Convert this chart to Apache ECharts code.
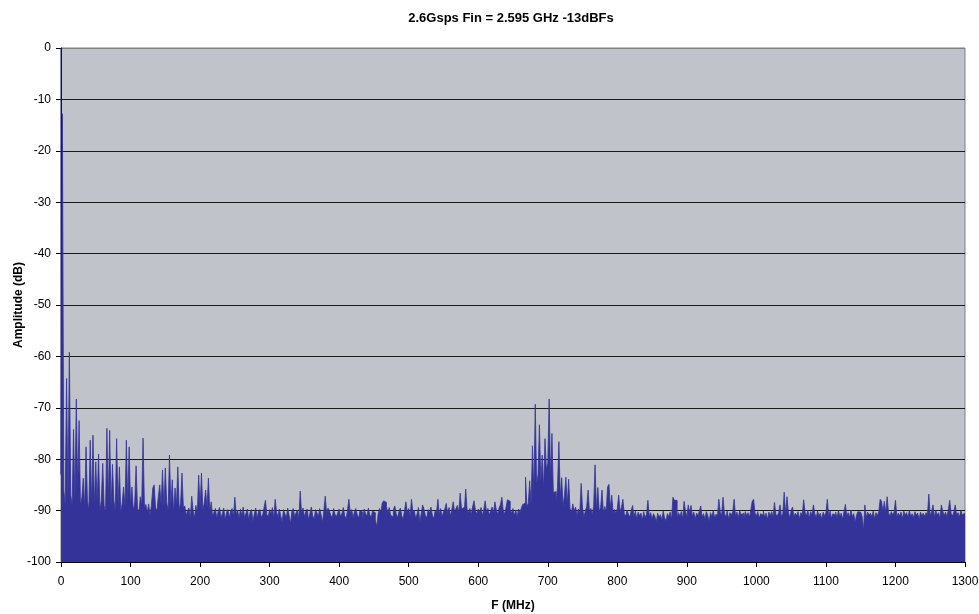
<!DOCTYPE html>
<html>
<head>
<meta charset="utf-8">
<script src="https://cdn.jsdelivr.net/npm/echarts@6/dist/echarts.min.js"></script>
<style>
html,body{margin:0;padding:0;background:#fff;}
#chart{width:979px;height:614px;}
</style>
</head>
<body>
<div id="chart"></div>
<script>
// Frequency bins: one value every 2 MHz, starting at 0 MHz
const binStartMHz = 0;
const binStepMHz = 2;

// Amplitude (dB) per 100 MHz segment
const amp0to98 = [0, -83, -12.8, -86, -89, -64.3, -88, -59.2, -87, -89, -74.2, -88, -68.3, -86, -72.5, -89, -87.5, -83.7, -89.5, -77.6, -88, -90, -76.3, -89, -75.3, -89.5, -80.5, -88.5, -79, -90, -88, -80.8, -89, -90.5, -74, -88.5, -74.4, -89.5, -81, -88, -90, -76, -89, -81.5, -90.5, -88.5, -85.4, -89.5, -76.3, -88.8];
const amp100to198 = [-77.6, -89, -85.4, -90, -88.5, -81.3, -89.5, -90.5, -87.3, -89, -75.9, -89.5, -88.8, -90.5, -88.7, -91, -89, -85.6, -85, -89.5, -90, -87.2, -85, -89, -82.1, -89.5, -81.7, -88.5, -90, -79.2, -89, -84, -90.5, -85.6, -89, -81.5, -90, -88.5, -82.7, -89.5, -89.1, -91, -90, -89.5, -91.5, -87.2, -90, -91.4, -89, -90.5];
const amp200to298 = [-83.1, -89.5, -82.7, -90, -88.5, -86, -89.5, -83.7, -90.2, -88.3, -91.2, -90.3, -89.6, -91.5, -90.2, -89.4, -91.3, -90.6, -89.5, -91.8, -90.4, -89.8, -91.4, -90.1, -89.6, -91.2, -87.4, -90.8, -89.9, -91.6, -89.7, -90.9, -89.3, -91.4, -90.5, -89.7, -91.8, -90.3, -89.8, -92.1, -90.6, -89.5, -91.5, -90.2, -89.8, -91.3, -90.8, -89.4, -88, -90.8];
const amp300to398 = [-91.2, -89.8, -90.7, -89.4, -91.5, -87.8, -90.3, -91.2, -89.7, -91, -92.2, -89.8, -90.6, -91.4, -89.5, -90.9, -92.5, -90.2, -89.6, -91.2, -90.4, -89.9, -91.6, -86.2, -90.7, -89.5, -91.2, -90.2, -89.7, -91.8, -90.5, -89.3, -91, -91.7, -89.8, -90.4, -91.2, -89.6, -90.8, -92.3, -90, -87.2, -90.6, -89.5, -90.1, -90.9, -91.4, -89.6, -90.7, -91.2];
const amp400to498 = [-90.4, -89.7, -91.2, -90.6, -89.4, -91, -91.7, -89.9, -87.8, -90.5, -89.8, -91.4, -90.2, -89.6, -90.8, -91.5, -90, -90.3, -92, -89.7, -90.6, -91.1, -89.5, -90.8, -91.3, -90.1, -90.4, -91.7, -93.2, -90.7, -89.6, -90.3, -88.5, -88.1, -88.4, -89.2, -90.5, -89.4, -90.9, -91.2, -89.8, -89.1, -90.6, -91.4, -90.2, -89.5, -91, -91.7, -90, -88.3];
const amp500to598 = [-90.4, -89.6, -91.2, -87.8, -90.3, -89.9, -91.5, -90.7, -89.4, -92.2, -90.6, -88.9, -89.7, -91, -91.4, -89.8, -90.5, -89.3, -90.9, -91.6, -90, -90.4, -87.8, -90.7, -89.6, -91.3, -90.2, -89.7, -88.6, -90.6, -89.4, -91.1, -89.8, -88.3, -90.3, -89.6, -89, -90.5, -86.6, -89.7, -89.4, -90.2, -85.8, -89.9, -90.4, -89.6, -90.8, -89.2, -88.1, -90];
const amp600to698 = [-90.7, -89.7, -90.3, -89.4, -91, -89.8, -88.1, -90.4, -89.6, -90.9, -90, -89.3, -90.5, -88.3, -89.9, -90.7, -89.5, -88.8, -87.4, -90.1, -90.6, -89.4, -87.9, -88.2, -89.8, -90.5, -89.6, -91, -89.9, -91.2, -89.7, -90.4, -89.5, -88.8, -88.5, -83.5, -89.2, -88.6, -84.2, -88.9, -77.4, -86.5, -69.3, -85, -83, -73.3, -84.5, -79.2, -86, -76];
const amp700to798 = [-82, -80.8, -68.3, -84, -75, -86.5, -86.3, -88.5, -85.5, -76.6, -87.5, -83.6, -89.2, -87, -83.5, -88.9, -83.9, -89.6, -90.4, -88.7, -90.1, -89.3, -91, -89.7, -90.6, -84.7, -89.5, -91.2, -90.1, -89.2, -86, -90.4, -89.6, -90.8, -89.1, -81.1, -89.9, -85.5, -90.2, -89.4, -86, -90.6, -89.2, -90.3, -85.4, -84.9, -89.5, -87, -90.4, -89.8];
const amp800to898 = [-90.5, -89.6, -87, -90.2, -89.4, -87.8, -90.6, -91.1, -89.9, -90.7, -91.3, -90, -89, -91.2, -90.1, -91.6, -90.3, -91, -90.5, -91.8, -90.2, -91.4, -90.7, -88, -91.2, -90.4, -91.7, -90.6, -91.1, -92.2, -90.5, -91.3, -90.8, -91.9, -90.1, -91.4, -92, -90.6, -91.2, -90.3, -91.7, -87.4, -88, -88, -91.5, -90.4, -91.1, -90.2, -91.6, -88.2];
const amp900to998 = [-90.1, -91.2, -88.9, -90.4, -89, -91.1, -90.3, -91.6, -90.5, -91, -90.1, -89.1, -91.3, -90.6, -91.7, -90.2, -90.9, -92.1, -90.4, -91.2, -90, -91.5, -90.7, -91.1, -87.8, -90.3, -91, -87.4, -90.5, -91.3, -90.1, -91.6, -90.4, -90.9, -90.2, -87.8, -91.1, -90.3, -91.4, -90, -90.8, -90.5, -91.7, -90.2, -91, -90.4, -91.3, -89.9, -88.2, -87.8];
const amp1000to1098 = [-90.4, -91.1, -90.2, -91.5, -90.6, -90.9, -90.1, -91.3, -90.5, -91.7, -90.3, -91, -90.2, -91.4, -88.4, -90.7, -91.1, -90.4, -88.9, -91.2, -90.6, -86.4, -90.9, -87.3, -90.3, -91.4, -90, -89.3, -91.3, -90.5, -91, -90.2, -91.6, -90.4, -90.8, -87.9, -90.3, -91.1, -89.9, -91.5, -90.2, -90.9, -88.9, -90.6, -91.4, -90.1, -91, -90.5, -91.7, -90.3];
const amp1100to1198 = [-91, -90.4, -87.8, -91.2, -90.1, -91.5, -90.6, -90.9, -90.3, -91.4, -90, -91.1, -90.5, -91.7, -90.2, -88.8, -91, -90.4, -91.3, -89.9, -91.2, -90.6, -92.2, -90.9, -90.2, -90.3, -90.4, -91.1, -93.8, -88.9, -91.4, -90.3, -90.9, -90.5, -91.2, -90.1, -91.6, -90.4, -91, -90.2, -87.8, -88.2, -90.3, -88.2, -90.5, -87.3, -90.4, -91.1, -90.2, -90.8];
const amp1200to1300 = [-90.3, -88, -91.2, -90.5, -91, -90.3, -91.6, -90.1, -90.9, -90.4, -91.3, -90, -91.1, -90.6, -91.4, -90.2, -90.9, -90.5, -91.7, -90.3, -91, -90.5, -91.2, -90.4, -90.8, -86.8, -91.1, -90.2, -88.9, -91.3, -90, -90.9, -90.4, -91.5, -88.9, -90.1, -91, -90.3, -91.2, -89.9, -88, -90.5, -91.1, -90.2, -88.9, -90.9, -90.4, -91.3, -90, -90.8, -90.5];

const amplitudes = [].concat(amp0to98, amp100to198, amp200to298, amp300to398, amp400to498,
  amp500to598, amp600to698, amp700to798, amp800to898, amp900to998, amp1000to1098,
  amp1100to1198, amp1200to1300);
const seriesData = amplitudes.map((v, i) => [binStartMHz + i * binStepMHz, v]);

const chart = echarts.init(document.getElementById('chart'), null, {renderer: 'canvas'});
const font = 'Arial, "Liberation Sans", sans-serif';
const gridColors = ['#000000','#1a1a1a','#1a1a1a','#1a1a1a','#1a1a1a','#1a1a1a','#1a1a1a','#1a1a1a','#1a1a1a','#1a1a1a','#808080'];

chart.setOption({
  animation: false,
  backgroundColor: '#ffffff',
  title: {
    text: '2.6Gsps Fin = 2.595 GHz -13dBFs',
    left: 511, top: 12, padding: 0, textAlign: 'center',
    textStyle: {fontFamily: font, fontSize: 13, fontWeight: 'bold', color: '#000'}
  },
  grid: {
    left: 61, right: 14, top: 48, bottom: 52,
    containLabel: false, outerBoundsMode: 'none',
    show: true, backgroundColor: '#C0C3CA', borderColor: '#808080', borderWidth: 1
  },
  xAxis: {
    type: 'value', min: 0, max: 1300, interval: 100,
    name: 'F (MHz)', nameLocation: 'middle', nameGap: 38, nameMoveOverlap: false,
    nameTextStyle: {fontFamily: font, fontSize: 12, fontWeight: 'bold', color: '#000'},
    axisLine: {show: true, onZero: false, lineStyle: {color: '#000', width: 1}},
    axisTick: {show: true, inside: false, length: 5, lineStyle: {color: '#000'}},
    axisLabel: {margin: 14, fontFamily: font, fontSize: 12, color: '#000', formatter: v => String(v)},
    splitLine: {show: false}
  },
  yAxis: {
    type: 'value', min: -100, max: 0, interval: 10,
    name: 'Amplitude (dB)', nameLocation: 'middle', nameGap: 36, nameMoveOverlap: false,
    nameTextStyle: {fontFamily: font, fontSize: 12, fontWeight: 'bold', color: '#000'},
    axisLine: {show: true, onZero: false, lineStyle: {color: '#000', width: 1}},
    axisTick: {show: true, inside: false, length: 5, lineStyle: {color: '#000'}},
    axisLabel: {margin: 10, fontFamily: font, fontSize: 12, color: '#000', formatter: v => String(v)},
    splitLine: {show: true, lineStyle: {color: gridColors, width: 1}}
  },
  series: [{
    type: 'line',
    data: seriesData,
    step: 'start',
    showSymbol: false,
    symbol: 'none',
    lineStyle: {color: '#333399', width: 0.8},
    areaStyle: {color: '#333399', opacity: 1, origin: 'start'},
    z: 2
  }]
});
</script>
</body>
</html>
